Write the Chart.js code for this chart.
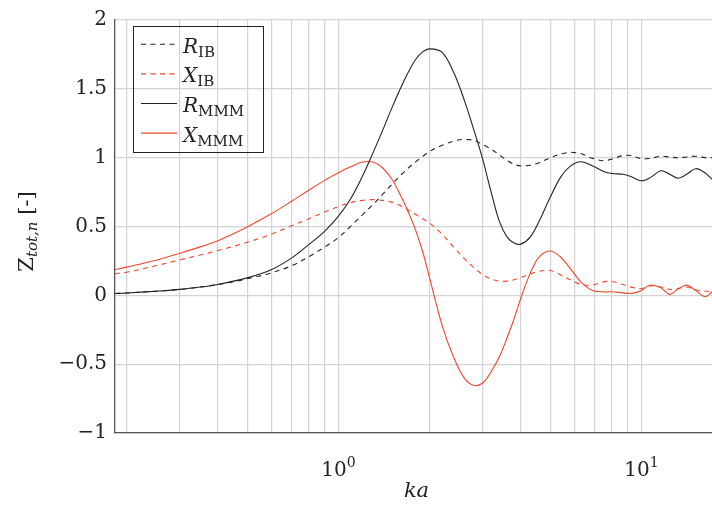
<!DOCTYPE html>
<html>
<head>
<meta charset="utf-8">
<script src="https://cdn.jsdelivr.net/npm/chart.js@4"></script>
<style>
  html, body { margin: 0; padding: 0; background: #fff; overflow: hidden; }
  #wrap { width: 712px; height: 506px; }
</style>
</head>
<body>
<div id="wrap"><canvas id="zChart" width="712" height="506"></canvas></div>
<script>
// normalised total impedance vs ka
const ka = [0.183, 0.2, 0.25, 0.3, 0.35, 0.4, 0.5, 0.6, 0.7, 0.8, 0.9, 1.0,
  1.1, 1.2, 1.3, 1.4, 1.5, 1.6, 1.7, 1.8, 1.9, 2.0, 2.2, 2.4, 2.6, 2.8, 3.0,
  3.2, 3.4, 3.6, 3.8, 4.0, 4.3, 4.6, 5.0, 5.4, 5.8, 6.3, 6.9, 7.5, 8.0, 8.7,
  9.3, 10, 10.7, 11.6, 12.4, 13.2, 14.1, 15.1, 16.2, 17.1];

const rIB = [0.013, 0.017, 0.03, 0.043, 0.06, 0.078, 0.12, 0.163, 0.215, 0.282, 0.35, 0.42,
  0.505, 0.585, 0.66, 0.735, 0.805, 0.87, 0.925, 0.97, 1.01, 1.046, 1.09, 1.12, 1.133, 1.125, 1.094,
  1.06, 1.02, 0.98, 0.952, 0.94, 0.945, 0.963, 0.999, 1.025, 1.038, 1.03, 0.995, 0.978, 0.99, 1.015,
  1.015, 0.992, 0.995, 1.01, 1.005, 0.999, 1.005, 1.01, 1.0, 1.0];

const xIB = [0.157, 0.168, 0.215, 0.258, 0.293, 0.325, 0.385, 0.444, 0.505, 0.557, 0.605, 0.645,
  0.675, 0.69, 0.695, 0.69, 0.677, 0.652, 0.62, 0.587, 0.555, 0.525, 0.445, 0.35, 0.268, 0.2, 0.15,
  0.118, 0.103, 0.103, 0.113, 0.13, 0.155, 0.175, 0.18, 0.15, 0.115, 0.08, 0.075, 0.098, 0.1, 0.078,
  0.058, 0.05, 0.068, 0.06, 0.043, 0.05, 0.06, 0.04, 0.03, 0.031];

const rMMM = [0.013, 0.017, 0.03, 0.043, 0.06, 0.079, 0.127, 0.186, 0.27, 0.37, 0.465, 0.575,
  0.705, 0.865, 1.035, 1.2, 1.36, 1.5, 1.62, 1.715, 1.77, 1.79, 1.765, 1.62, 1.42, 1.2, 0.98,
  0.74, 0.535, 0.425, 0.38, 0.372, 0.425, 0.54, 0.712, 0.855, 0.935, 0.97, 0.94, 0.9, 0.885, 0.879,
  0.86, 0.832, 0.855, 0.905, 0.88, 0.85, 0.879, 0.92, 0.89, 0.843];

const xMMM = [0.187, 0.205, 0.255, 0.306, 0.352, 0.397, 0.497, 0.592, 0.683, 0.765, 0.835, 0.89,
  0.935, 0.968, 0.968, 0.925, 0.845, 0.73, 0.605, 0.47, 0.311, 0.125, -0.22, -0.45, -0.6, -0.655, -0.635,
  -0.55, -0.445, -0.31, -0.17, -0.02, 0.163, 0.28, 0.322, 0.28, 0.2, 0.1, 0.035, 0.025, 0.026, 0.018,
  0.014, 0.035, 0.075, 0.055, 0.007, 0.045, 0.074, 0.035, -0.01, 0.024];

const xGridTicks = [0.2, 0.3, 0.4, 0.5, 0.6, 0.7, 0.8, 0.9, 1, 2, 3, 4, 5, 6, 7, 8, 9, 10];
const xLabelTicks = [1, 10];
const yTicks = [-1, -0.5, 0, 0.5, 1, 1.5, 2];

const serif = '"DejaVu Serif", serif';
const black = '#222';
const red = '#f0462d';

function pts(ys) {
  return ka.map((x, i) => ({ x: x, y: ys[i] }));
}

// draws a run of text pieces left to right, each with its own font and vertical shift
function drawRich(ctx, parts, x, y) {
  let cx = x;
  parts.forEach(p => {
    ctx.font = p.font;
    ctx.fillText(p.text, cx, y + (p.dy || 0));
    cx += ctx.measureText(p.text).width;
  });
  return cx - x;
}
function richWidth(ctx, parts) {
  let w = 0;
  parts.forEach(p => { ctx.font = p.font; w += ctx.measureText(p.text).width; });
  return w;
}

const textPlugin = {
  id: 'texts',
  afterDraw(chart) {
    const ctx = chart.ctx;
    const xs = chart.scales.x;
    const area = chart.chartArea;
    ctx.save();
    ctx.fillStyle = '#222';
    ctx.textBaseline = 'alphabetic';

    // x tick labels 10^n
    xLabelTicks.forEach(v => {
      const parts = [
        { text: '10', font: '20px ' + serif },
        { text: String(Math.round(Math.log10(v))), font: '14px ' + serif, dy: -9 }
      ];
      const w = richWidth(ctx, parts);
      drawRich(ctx, parts, xs.getPixelForValue(v) - w / 2, 476);
    });

    // x title
    ctx.font = 'italic 21px ' + serif;
    ctx.textAlign = 'center';
    ctx.fillText('ka', (area.left + area.right) / 2 + 3, 497);
    ctx.textAlign = 'left';

    // y title, rotated
    const yParts = [
      { text: 'Z', font: '21px ' + serif },
      { text: 'tot,n', font: 'italic 15px ' + serif, dy: 4 },
      { text: ' [-]', font: '21px ' + serif }
    ];
    ctx.save();
    ctx.translate(33, (area.top + area.bottom) / 2 + 5);
    ctx.rotate(-Math.PI / 2);
    drawRich(ctx, yParts, -richWidth(ctx, yParts) / 2, 0);
    ctx.restore();

    // legend box
    ctx.strokeStyle = '#222';
    ctx.lineWidth = 1;
    ctx.strokeRect(133.5, 26.5, 130, 126);
    chart.data.datasets.forEach((ds, i) => {
      const ry = 44.3 + i * 29.6;
      ctx.save();
      ctx.strokeStyle = ds.borderColor;
      ctx.lineWidth = ds.borderWidth;
      ctx.setLineDash(ds.borderDash || []);
      ctx.beginPath();
      ctx.moveTo(141, ry);
      ctx.lineTo(177, ry);
      ctx.stroke();
      ctx.restore();
      drawRich(ctx, [
        { text: ds.sym, font: 'italic 20px ' + serif },
        { text: ds.sub, font: '15px ' + serif, dy: 4 }
      ], 183, ry + 8.5);
    });
    ctx.restore();
  }
};

new Chart(document.getElementById('zChart'), {
  type: 'line',
  data: {
    datasets: [
      { label: 'R_IB', sym: 'R', sub: 'IB', data: pts(rIB), borderColor: black, borderWidth: 1.1, borderDash: [5, 4.5] },
      { label: 'X_IB', sym: 'X', sub: 'IB', data: pts(xIB), borderColor: red, borderWidth: 1.1, borderDash: [5, 4.5] },
      { label: 'R_MMM', sym: 'R', sub: 'MMM', data: pts(rMMM), borderColor: black, borderWidth: 1.1 },
      { label: 'X_MMM', sym: 'X', sub: 'MMM', data: pts(xMMM), borderColor: red, borderWidth: 1.1 }
    ]
  },
  options: {
    responsive: false,
    animation: false,
    devicePixelRatio: 1,
    layout: { padding: { left: 0, top: 13, right: 0, bottom: 0 } },
    elements: {
      point: { radius: 0 },
      line: { tension: 0.35, fill: false }
    },
    plugins: { legend: { display: false }, tooltip: { enabled: false } },
    scales: {
      x: {
        type: 'logarithmic',
        min: 0.183,
        max: 17.1,
        afterBuildTicks: scale => { scale.ticks = xGridTicks.map(v => ({ value: v })); },
        afterFit: scale => { scale.height = 73; },
        ticks: { display: false },
        grid: { color: '#d3d3d3', lineWidth: 1.2, drawTicks: false },
        border: { color: '#555', width: 1.3 }
      },
      y: {
        min: -1,
        max: 2,
        afterBuildTicks: scale => { scale.ticks = yTicks.map(v => ({ value: v })); },
        afterFit: scale => { scale.width = 115; },
        ticks: {
          padding: 8,
          color: '#222',
          font: { family: serif, size: 20 },
          callback: v => (v < 0 ? '\u2212' + Math.abs(v) : String(v))
        },
        grid: { color: '#d3d3d3', lineWidth: 1.2, drawTicks: false },
        border: { color: '#555', width: 1.3 }
      }
    }
  },
  plugins: [textPlugin]
});
</script>
</body>
</html>
